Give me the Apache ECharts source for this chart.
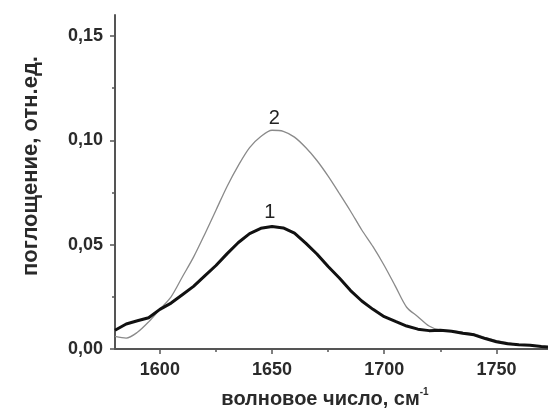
<!DOCTYPE html>
<html><head><meta charset="utf-8">
<script src="https://cdn.jsdelivr.net/npm/echarts@6/dist/echarts.min.js"></script>
<style>html,body{margin:0;padding:0;background:#fff}#c{width:548px;height:409px}</style>
</head><body><div id="c"></div>
<script>
const wavenumbers = [1580,1585,1590,1595,1600,1605,1610,1615,1620,1625,1630,1635,1640,1645,1650,1655,1660,1665,1670,1675,1680,1685,1690,1695,1700,1705,1710,1715,1720,1725,1730,1735,1740,1745,1750,1755,1760,1765,1770,1773];
const curve1 = [0.009,0.012,0.0135,0.015,0.019,0.022,0.026,0.030,0.035,0.040,0.0457,0.051,0.0553,0.0578,0.0587,0.0580,0.0555,0.0507,0.0455,0.0395,0.034,0.028,0.023,0.019,0.0155,0.0132,0.011,0.0095,0.0088,0.009,0.0085,0.0075,0.0068,0.005,0.0035,0.0025,0.002,0.0018,0.0012,0.001];
const curve2 = [0.006,0.0052,0.008,0.013,0.019,0.025,0.0345,0.044,0.055,0.0665,0.078,0.088,0.0965,0.1018,0.1048,0.1043,0.1015,0.0965,0.0903,0.0828,0.0745,0.066,0.057,0.049,0.040,0.030,0.020,0.0155,0.011,0.009,0.0088,0.008,0.0072,0.0055,0.004,0.003,0.002,0.0018,0.0013,0.001];
const xMajor = [1600,1650,1700,1750];
const xMinor = [1625,1675,1725];
const yMajor = [0,0.05,0.10,0.15];
const yMinor = [0.025,0.075,0.125];
const curveLabels = [{name:'1', x:1649, y:0.0587},{name:'2', x:1651, y:0.1048}];
const xTitle = 'волновое число, см';
const xTitleSup = '-1';
const yTitle = 'поглощение, отн.ед.';

const font = 'Liberation Sans, Arial, sans-serif';
const axisColor = '#555';
const textColor = '#2a2a2a';
const pair = (xs, ys) => xs.map((x,i)=>[x, ys[i]]);

const chart = echarts.init(document.getElementById('c'));
const baseX = {type:'value', min:1580, max:1773, gridIndex:0, position:'bottom', splitLine:{show:false}};
const baseY = {type:'value', min:0, max:0.16, gridIndex:0, position:'left', splitLine:{show:false}};
chart.setOption({
  animation:false,
  grid:{left:115, top:15, right:0, bottom:60},
  xAxis:[
    Object.assign({}, baseX, {
      axisLine:{lineStyle:{color:axisColor, width:2}},
      axisTick:{customValues:xMajor, length:5, lineStyle:{color:axisColor, width:1.5}},
      axisLabel:{customValues:xMajor, color:textColor, fontFamily:font, fontWeight:'bold', fontSize:18, margin:12,
        formatter:v=>String(v)}
    }),
    Object.assign({}, baseX, {
      axisLine:{show:false},
      axisTick:{customValues:xMinor, length:3, lineStyle:{color:axisColor, width:1.5}},
      axisLabel:{show:false}
    })
  ],
  yAxis:[
    Object.assign({}, baseY, {
      axisLine:{show:true, lineStyle:{color:axisColor, width:2}},
      axisTick:{show:true, customValues:yMajor, length:5, lineStyle:{color:axisColor, width:1.5}},
      axisLabel:{customValues:yMajor, color:textColor, fontFamily:font, fontWeight:'bold', fontSize:18, margin:12,
        formatter:v=>v.toFixed(2).replace('.',',')}
    }),
    Object.assign({}, baseY, {
      axisLine:{show:false},
      axisTick:{show:true, customValues:yMinor, length:3, lineStyle:{color:axisColor, width:1.5}},
      axisLabel:{show:false}
    })
  ],
  graphic:[
    {type:'text', x:325, y:399, style:{text:xTitle+'{sup|'+xTitleSup+'}', fill:textColor, font:'bold 20px '+font, align:'center', verticalAlign:'middle',
      rich:{sup:{fontSize:10, fontWeight:'bold', fontFamily:font, fill:textColor, verticalAlign:'top', padding:[0,0,14,0]}}}},
    {type:'text', x:31, y:166, rotation:Math.PI/2, style:{text:yTitle, fill:textColor, font:'bold 22px '+font, align:'center', verticalAlign:'middle'}}
  ],
  series:[
    {type:'line', data:pair(wavenumbers, curve2), showSymbol:false, lineStyle:{color:'#8a8a8a', width:1.3}, smooth:0.3, z:2,
      markPoint:{symbol:'circle', symbolSize:0, data:[{coord:[curveLabels[1].x, curveLabels[1].y], label:{show:true, formatter:curveLabels[1].name, position:'top', distance:2, color:'#222', fontSize:20, fontFamily:font}}]}},
    {type:'line', data:pair(wavenumbers, curve1), showSymbol:false, lineStyle:{color:'#111', width:3}, z:3,
      markPoint:{symbol:'circle', symbolSize:0, data:[{coord:[curveLabels[0].x, curveLabels[0].y], label:{show:true, formatter:curveLabels[0].name, position:'top', distance:4, color:'#222', fontSize:20, fontFamily:font}}]}}
  ]
});
</script></body></html>
